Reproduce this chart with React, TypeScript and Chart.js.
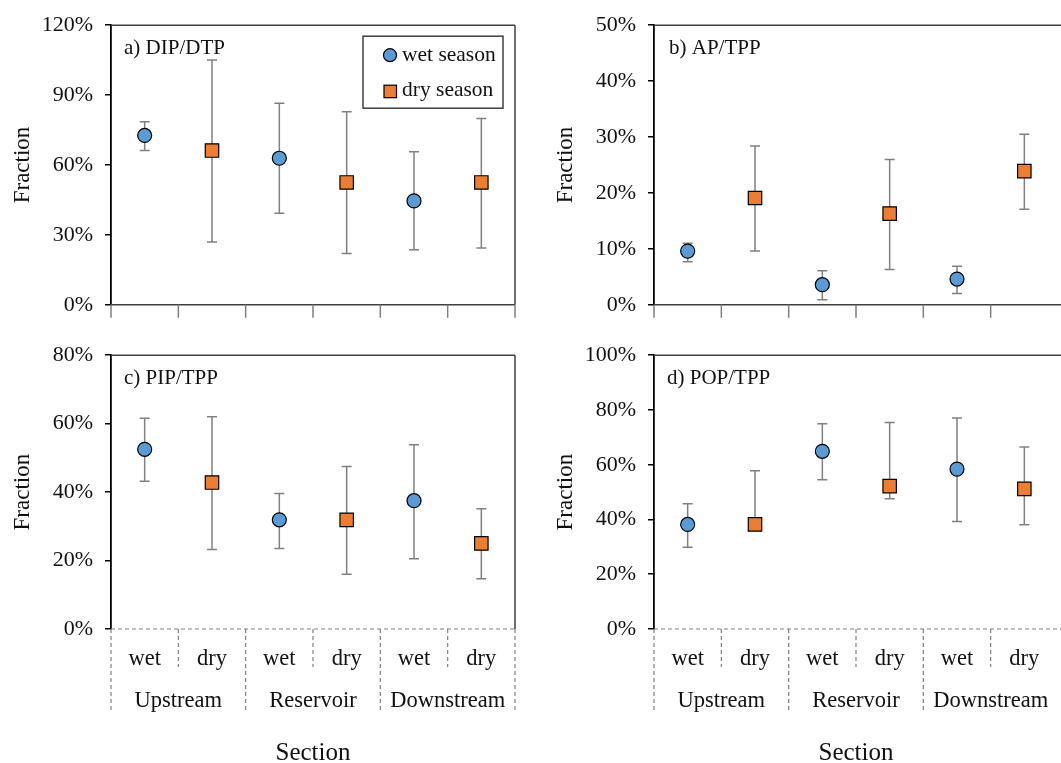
import React, { useEffect, useRef } from 'react';
import { Chart, registerables } from 'chart.js';

Chart.register(...registerables);

// ---------- data ----------
const categories = ['wet', 'dry', 'wet', 'dry', 'wet', 'dry'];
const sections = ['Upstream', 'Reservoir', 'Downstream'];
const seriesNames = ['wet season', 'dry season'];

// a) DIP/DTP
const dipWetMean = [72.7, 62.9, 44.6];
const dipWetLow = [66.2, 39.3, 23.6];
const dipWetHigh = [78.6, 86.5, 65.7];
const dipDryMean = [66.2, 52.5, 52.5];
const dipDryLow = [26.9, 22.0, 24.4];
const dipDryHigh = [105.1, 82.9, 80.0];

// b) AP/TPP
const apWetMean = [9.6, 3.6, 4.6];
const apWetLow = [7.7, 0.9, 2.0];
const apWetHigh = [11.0, 6.1, 6.9];
const apDryMean = [19.1, 16.3, 23.9];
const apDryLow = [9.6, 6.3, 17.1];
const apDryHigh = [28.4, 26.0, 30.5];

// c) PIP/TPP
const pipWetMean = [52.5, 31.9, 37.5];
const pipWetLow = [43.2, 23.5, 20.5];
const pipWetHigh = [61.6, 39.6, 53.8];
const pipDryMean = [42.8, 31.9, 25.0];
const pipDryLow = [23.2, 16.0, 14.7];
const pipDryHigh = [62.0, 47.5, 35.1];

// d) POP/TPP
const popWetMean = [38.2, 64.9, 58.4];
const popWetLow = [29.9, 54.5, 39.3];
const popWetHigh = [45.7, 75.0, 77.1];
const popDryMean = [38.2, 52.2, 51.2];
const popDryLow = [37.0, 47.6, 38.1];
const popDryHigh = [57.8, 75.4, 66.5];

const panelTitles = ['a) DIP/DTP', 'b) AP/TPP', 'c) PIP/TPP', 'd) POP/TPP'];
const yMaxes = [120, 50, 80, 100];
const ySteps = [30, 10, 20, 20];
const yTitle = 'Fraction';
const xTitle = 'Section';

// ---------- style ----------
const FONT = "'Liberation Serif', 'Times New Roman', serif";
const TEXT = '#111111';
const WET_COLOR = '#5B9BD5';
const DRY_COLOR = '#ED7D31';
const ERR_COLOR = '#808080';
const FRAME = '#404040';

type Series = { mean: number[]; low: number[]; high: number[] };
type PanelCfg = {
  left: number;
  top: number;
  h: number;
  padTop: number;
  padBottom: number;
  max: number;
  step: number;
  title: string;
  titleDx: number;
  wet: Series;
  dry: Series;
  bottomLabels: boolean;
  legend: boolean;
  rightBorder: boolean;
};

const panels: PanelCfg[] = [
  {
    left: 0, top: 0, h: 330, padTop: 21, padBottom: 24, max: yMaxes[0], step: ySteps[0],
    title: panelTitles[0], titleDx: 13,
    wet: { mean: dipWetMean, low: dipWetLow, high: dipWetHigh },
    dry: { mean: dipDryMean, low: dipDryLow, high: dipDryHigh },
    bottomLabels: false, legend: true, rightBorder: true,
  },
  {
    left: 543, top: 0, h: 330, padTop: 21, padBottom: 24, max: yMaxes[1], step: ySteps[1],
    title: panelTitles[1], titleDx: 15,
    wet: { mean: apWetMean, low: apWetLow, high: apWetHigh },
    dry: { mean: apDryMean, low: apDryLow, high: apDryHigh },
    bottomLabels: false, legend: false, rightBorder: false,
  },
  {
    left: 0, top: 330, h: 433, padTop: 15, padBottom: 134, max: yMaxes[2], step: ySteps[2],
    title: panelTitles[2], titleDx: 13,
    wet: { mean: pipWetMean, low: pipWetLow, high: pipWetHigh },
    dry: { mean: pipDryMean, low: pipDryLow, high: pipDryHigh },
    bottomLabels: true, legend: false, rightBorder: true,
  },
  {
    left: 543, top: 330, h: 433, padTop: 15, padBottom: 134, max: yMaxes[3], step: ySteps[3],
    title: panelTitles[3], titleDx: 13,
    wet: { mean: popWetMean, low: popWetLow, high: popWetHigh },
    dry: { mean: popDryMean, low: popDryLow, high: popDryHigh },
    bottomLabels: true, legend: false, rightBorder: false,
  },
];

function toPoints(mean: number[], offset: number) {
  return mean.map((v, i) => ({ x: i * 2 + offset + 0.5, y: v }));
}

function Panel({ cfg }: { cfg: PanelCfg }) {
  const ref = useRef<HTMLCanvasElement>(null);

  useEffect(() => {
    if (!ref.current) return;

    const errorBars = {
      id: 'errorBars',
      beforeDatasetsDraw(chart: any) {
        const ctx = chart.ctx;
        const y = chart.scales.y;
        chart.data.datasets.forEach((ds: any, di: number) => {
          const meta = chart.getDatasetMeta(di);
          meta.data.forEach((el: any, j: number) => {
            const lo = y.getPixelForValue(ds.errLow[j]);
            const hi = y.getPixelForValue(ds.errHigh[j]);
            ctx.save();
            ctx.strokeStyle = ERR_COLOR;
            ctx.lineWidth = 1.5;
            ctx.beginPath();
            ctx.moveTo(el.x, lo);
            ctx.lineTo(el.x, hi);
            ctx.moveTo(el.x - 5, lo);
            ctx.lineTo(el.x + 5, lo);
            ctx.moveTo(el.x - 5, hi);
            ctx.lineTo(el.x + 5, hi);
            ctx.stroke();
            ctx.restore();
          });
        });
      },
    };

    const decor = {
      id: 'decor',
      afterDraw(chart: any) {
        const ctx = chart.ctx;
        const xs = chart.scales.x;
        const { left, right, top, bottom } = chart.chartArea;
        const rightExt = cfg.rightBorder ? right : chart.width;
        ctx.save();

        // frame
        ctx.strokeStyle = FRAME;
        ctx.lineWidth = 1.5;
        ctx.beginPath();
        ctx.moveTo(left, top);
        ctx.lineTo(rightExt, top);
        if (cfg.rightBorder) {
          ctx.moveTo(right, top);
          ctx.lineTo(right, bottom);
        }
        if (!cfg.bottomLabels) {
          ctx.moveTo(left, bottom);
          ctx.lineTo(rightExt, bottom);
        }
        ctx.stroke();

        const nBound = cfg.rightBorder ? 6 : 5;
        if (!cfg.bottomLabels) {
          ctx.strokeStyle = ERR_COLOR;
          ctx.lineWidth = 1.5;
          ctx.beginPath();
          for (let k = 0; k <= nBound; k++) {
            const px = xs.getPixelForValue(k);
            ctx.moveTo(px, bottom);
            ctx.lineTo(px, bottom + 13);
          }
          ctx.stroke();
        } else {
          ctx.strokeStyle = ERR_COLOR;
          ctx.lineWidth = 1.2;
          ctx.setLineDash([4, 3]);
          ctx.beginPath();
          ctx.moveTo(left, bottom);
          ctx.lineTo(rightExt, bottom);
          for (let k = 0; k <= nBound; k++) {
            const px = xs.getPixelForValue(k);
            ctx.moveTo(px, bottom);
            ctx.lineTo(px, bottom + (k % 2 === 0 ? 84 : 38));
          }
          ctx.stroke();
          ctx.setLineDash([]);

          ctx.fillStyle = TEXT;
          ctx.textAlign = 'center';
          ctx.textBaseline = 'alphabetic';
          ctx.font = `22.5px ${FONT}`;
          categories.forEach((c, i) => {
            ctx.fillText(c, xs.getPixelForValue(i + 0.5), bottom + 36);
          });
          sections.forEach((s, i) => {
            ctx.fillText(s, xs.getPixelForValue(i * 2 + 1), bottom + 78);
          });
          ctx.font = `25px ${FONT}`;
          ctx.fillText(xTitle, (left + right) / 2, bottom + 131);
        }

        // panel title
        ctx.fillStyle = TEXT;
        ctx.textAlign = 'left';
        ctx.textBaseline = 'alphabetic';
        ctx.font = `21px ${FONT}`;
        ctx.fillText(cfg.title, left + cfg.titleDx, top + 29);

        // legend
        if (cfg.legend) {
          const bx = right - 152;
          const by = top + 11;
          ctx.fillStyle = '#ffffff';
          ctx.fillRect(bx, by, 140, 72);
          ctx.strokeStyle = FRAME;
          ctx.lineWidth = 1.5;
          ctx.strokeRect(bx, by, 140, 72);
          ctx.lineWidth = 1.2;
          ctx.strokeStyle = '#000000';
          ctx.fillStyle = WET_COLOR;
          ctx.beginPath();
          ctx.arc(bx + 27, by + 19, 6.5, 0, Math.PI * 2);
          ctx.fill();
          ctx.stroke();
          ctx.fillStyle = DRY_COLOR;
          ctx.fillRect(bx + 21, by + 49, 12.5, 12.5);
          ctx.strokeRect(bx + 21, by + 49, 12.5, 12.5);
          ctx.fillStyle = TEXT;
          ctx.font = `21.5px ${FONT}`;
          ctx.fillText(seriesNames[0], bx + 39, by + 25);
          ctx.fillText(seriesNames[1], bx + 39, by + 60);
        }
        ctx.restore();
      },
    };

    const chart = new Chart(ref.current, {
      type: 'scatter',
      data: {
        datasets: [
          {
            label: seriesNames[0],
            data: toPoints(cfg.wet.mean, 0),
            errLow: cfg.wet.low,
            errHigh: cfg.wet.high,
            pointStyle: 'circle',
            pointRadius: 7,
            pointBackgroundColor: WET_COLOR,
            pointBorderColor: '#000000',
            pointBorderWidth: 1.2,
            showLine: false,
          } as any,
          {
            label: seriesNames[1],
            data: toPoints(cfg.dry.mean, 1),
            errLow: cfg.dry.low,
            errHigh: cfg.dry.high,
            pointStyle: 'rect',
            pointRadius: 9.5,
            pointBackgroundColor: DRY_COLOR,
            pointBorderColor: '#000000',
            pointBorderWidth: 1.2,
            showLine: false,
          } as any,
        ],
      },
      options: {
        responsive: false,
        animation: false,
        events: [],
        layout: { padding: { top: cfg.padTop, right: 15, bottom: cfg.padBottom, left: 0 } },
        plugins: { legend: { display: false }, tooltip: { enabled: false } },
        scales: {
          x: { type: 'linear', min: 0, max: 6, display: false },
          y: {
            min: 0,
            max: cfg.max,
            ticks: {
              stepSize: cfg.step,
              padding: 12,
              color: TEXT,
              font: { family: FONT, size: 22 },
              callback: (v: any) => `${v}%`,
            },
            grid: { drawOnChartArea: false, drawTicks: true, tickLength: 6, color: '#000000', lineWidth: 1.5 },
            border: { display: true, color: '#000000', width: 1.8 },
            title: {
              display: true,
              text: yTitle,
              color: TEXT,
              font: { family: FONT, size: 23 },
              padding: { top: 9, bottom: 0 },
            },
            afterFit: (s: any) => {
              s.width = 111;
            },
          },
        },
      } as any,
      plugins: [errorBars, decor],
    });

    return () => chart.destroy();
  }, [cfg]);

  return (
    <canvas
      ref={ref}
      width={530}
      height={cfg.h}
      style={{ position: 'absolute', left: cfg.left, top: cfg.top, width: 530, height: cfg.h }}
    />
  );
}

export default function App() {
  return (
    <div
      style={{
        position: 'absolute',
        left: 0,
        top: 0,
        width: 1061,
        height: 763,
        overflow: 'hidden',
        background: '#ffffff',
      }}
    >
      {panels.map((p, i) => (
        <Panel key={i} cfg={p} />
      ))}
    </div>
  );
}
